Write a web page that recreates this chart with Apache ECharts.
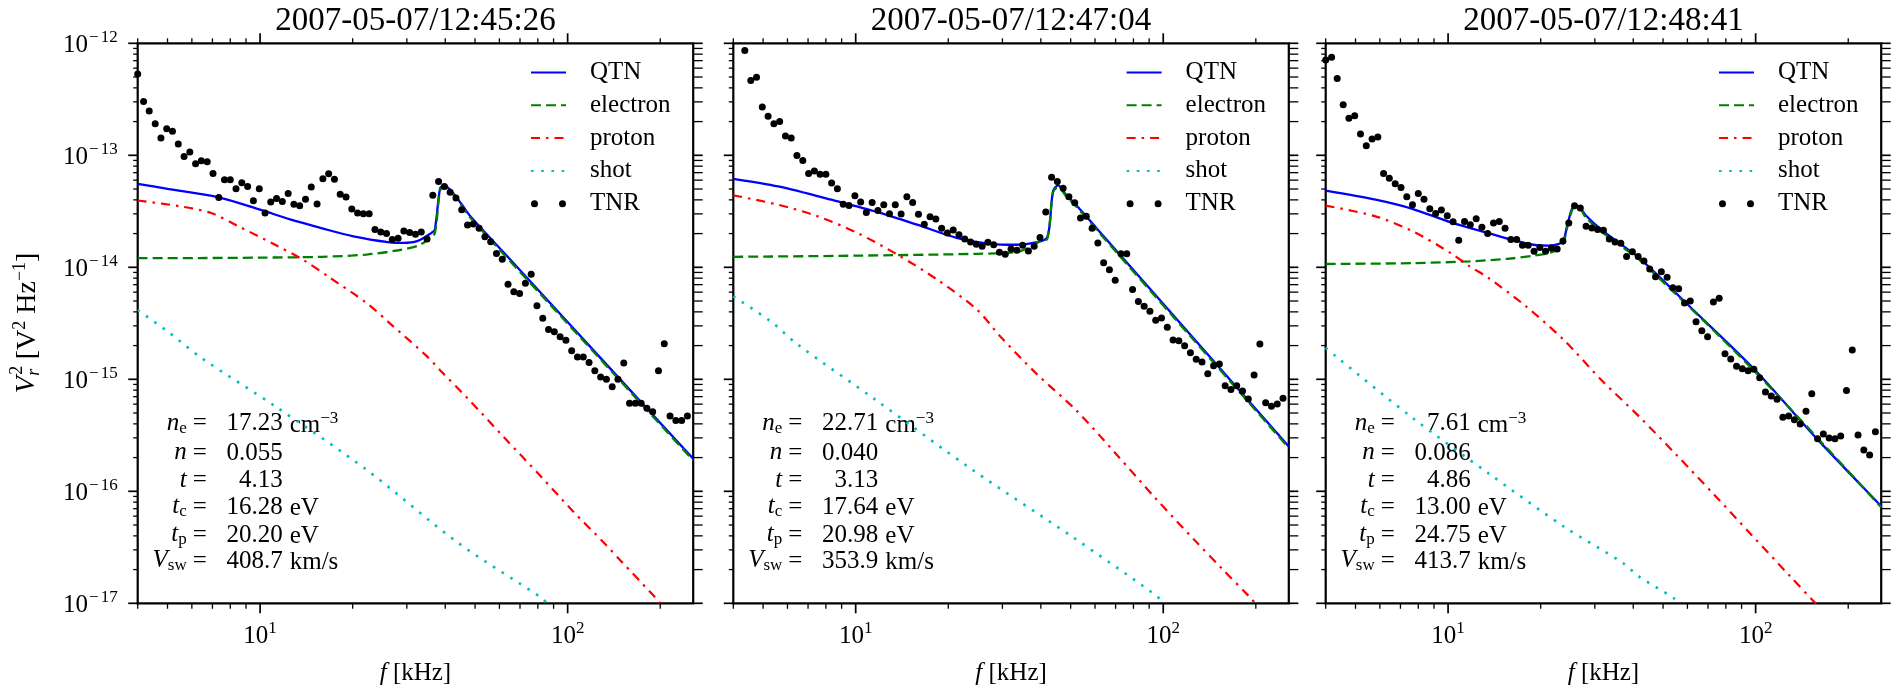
<!DOCTYPE html>
<html>
<head>
<meta charset="utf-8">
<script src="https://cdn.jsdelivr.net/npm/echarts@6/dist/echarts.min.js"></script>
<style>
  html, body { margin: 0; padding: 0; background: #fff; }
  #chart { width: 1891px; height: 688px; }
</style>
</head>
<body>
<div id="chart"></div>
<script>
// ---- TNR receiver channel frequencies (kHz) ----
const freqKHz = [
  4.00, 4.18, 4.36, 4.56, 4.76, 4.97, 5.19, 5.42, 5.66, 5.91, 6.17, 6.44, 6.73, 7.03, 7.34, 7.66,
  8.00, 8.35, 8.72, 9.11, 9.51, 9.94, 10.38, 10.83, 11.31, 11.81, 12.34, 12.88, 13.45, 14.05, 14.67, 15.32,
  16.00, 16.71, 17.45, 18.22, 19.03, 19.87, 20.75, 21.67, 22.63, 23.63, 24.68, 25.77, 26.91, 28.10, 29.34, 30.64,
  32.00, 33.42, 34.90, 36.44, 38.05, 39.74, 41.50, 43.34, 45.25, 47.26, 49.35, 51.54, 53.82, 56.20, 58.69, 61.29,
  64.00, 66.83, 69.79, 72.88, 76.11, 79.48, 83.00, 86.67, 90.51, 94.52, 98.70, 103.07, 107.63, 112.40, 117.38, 122.57,
  128.00, 133.67, 139.59, 145.77, 152.22, 158.96, 166.00, 173.35, 181.02, 189.03, 197.40, 206.14, 215.27, 224.80, 234.75, 245.15
];

// ---- measured TNR spectra (V^2/Hz), one value per channel ----
const tnr1 = [
  5.33e-13, 3.02e-13, 2.49e-13, 1.91e-13, 1.43e-13, 1.73e-13, 1.64e-13, 1.26e-13, 9.77e-14, 1.07e-13, 8.39e-14, 8.93e-14, 8.75e-14, 6.89e-14, 4.21e-14, 6.05e-14,
  6.05e-14, 5.02e-14, 5.69e-14, 5.27e-14, 3.93e-14, 5.02e-14, 3.05e-14, 3.82e-14, 4.12e-14, 3.87e-14, 4.57e-14, 3.65e-14, 3.55e-14, 4.06e-14, 5.20e-14, 3.67e-14,
  6.17e-14, 6.84e-14, 6.12e-14, 4.48e-14, 4.24e-14, 3.31e-14, 3.05e-14, 3.01e-14, 3.01e-14, 2.17e-14, 2.07e-14, 2.00e-14, 1.77e-14, 1.82e-14, 2.11e-14, 2.04e-14,
  1.97e-14, 2.07e-14, 1.79e-14, 4.39e-14, 5.85e-14, 5.27e-14, 4.67e-14, 4.15e-14, 3.27e-14, 2.38e-14, 2.44e-14, 2.23e-14, 1.87e-14, 1.69e-14, 1.33e-14, 1.18e-14,
  7.05e-15, 6.05e-15, 5.85e-15, 7.19e-15, 8.65e-15, 4.54e-15, 3.51e-15, 2.79e-15, 2.66e-15, 2.40e-15, 2.23e-15, 1.80e-15, 1.58e-15, 1.58e-15, 1.41e-15, 1.19e-15,
  1.05e-15, 1.00e-15, 8.59e-16, 1.00e-15, 1.40e-15, 6.11e-16, 6.11e-16, 6.11e-16, 5.51e-16, 5.14e-16, 1.19e-15, 2.08e-15, 4.71e-16, 4.28e-16, 4.28e-16, 4.71e-16
];
const tnr2 = [
  null, null, 8.61e-13, 4.65e-13, 4.98e-13, 2.70e-13, 2.23e-13, 1.91e-13, 2.00e-13, 1.49e-13, 1.43e-13, 9.98e-14, 9.00e-14, 6.89e-14, 7.23e-14, 6.79e-14,
  6.79e-14, 5.65e-14, 5.02e-14, 3.65e-14, 3.57e-14, 4.36e-14, 3.82e-14, 3.09e-14, 3.79e-14, 3.22e-14, 3.62e-14, 3.01e-14, 3.62e-14, 2.99e-14, 4.27e-14, 3.79e-14,
  2.97e-14, 2.42e-14, 2.83e-14, 2.70e-14, 2.23e-14, 2.02e-14, 2.15e-14, 1.95e-14, 1.79e-14, 1.68e-14, 1.61e-14, 1.54e-14, 1.67e-14, 1.59e-14, 1.36e-14, 1.31e-14,
  1.46e-14, 1.42e-14, 1.57e-14, 1.40e-14, 1.54e-14, 1.85e-14, 3.11e-14, 6.38e-14, 5.85e-14, 5.09e-14, 4.27e-14, 3.77e-14, 2.75e-14, 2.85e-14, 2.23e-14, 1.65e-14,
  1.10e-14, 9.53e-15, 7.66e-15, 1.32e-14, 1.32e-14, 6.32e-15, 4.94e-15, 4.49e-15, 4.05e-15, 3.37e-15, 3.53e-15, 2.92e-15, 2.24e-15, 2.21e-15, 1.99e-15, 1.73e-15,
  1.51e-15, 1.43e-15, 1.12e-15, 1.32e-15, 1.37e-15, 8.77e-16, 8.09e-16, 8.77e-16, 7.87e-16, 6.67e-16, 1.09e-15, 2.07e-15, 6.19e-16, 5.74e-16, 6.03e-16, 6.76e-16
];
const tnr3 = [
  7.10e-13, 7.50e-13, 4.84e-13, 2.82e-13, 2.14e-13, 2.26e-13, 1.55e-13, 1.22e-13, 1.40e-13, 1.46e-13, 6.89e-14, 6.25e-14, 5.57e-14, 5.16e-14, 4.27e-14, 3.62e-14,
  4.57e-14, 4.06e-14, 3.33e-14, 3.03e-14, 3.24e-14, 2.89e-14, 2.55e-14, 1.74e-14, 2.57e-14, 2.40e-14, 2.72e-14, 2.28e-14, 2.00e-14, 2.48e-14, 2.57e-14, 2.23e-14,
  1.77e-14, 1.77e-14, 1.57e-14, 1.57e-14, 1.39e-14, 1.50e-14, 1.39e-14, 1.49e-14, 1.46e-14, 1.72e-14, 2.48e-14, 3.55e-14, 3.38e-14, 2.33e-14, 2.24e-14, 2.17e-14,
  2.14e-14, 1.79e-14, 1.68e-14, 1.64e-14, 1.25e-14, 1.38e-14, 1.25e-14, 1.14e-14, 9.66e-15, 8.24e-15, 9.14e-15, 8.14e-15, 6.58e-15, 6.44e-15, 4.80e-15, 5.00e-15,
  3.27e-15, 2.72e-15, 2.40e-15, 4.90e-15, 5.28e-15, 1.69e-15, 1.52e-15, 1.31e-15, 1.24e-15, 1.19e-15, 1.23e-15, 1.03e-15, 7.70e-16, 7.10e-16, 6.62e-16, 4.58e-16,
  4.70e-16, 4.36e-16, 3.99e-16, 5.18e-16, 7.43e-16, 2.95e-16, 3.25e-16, 2.99e-16, 2.95e-16, 3.12e-16, 7.93e-16, 1.83e-15, 3.18e-16, 2.34e-16, 2.11e-16, 3.40e-16
];

// ---- fitted model spectra: [f (kHz), V^2/Hz] ----
const qtn1 = [[4.0,5.57e-14],[5.01,5.02e-14],[7.29,4.24e-14],[10.0,3.27e-14],[12.6,2.66e-14],[15.8,2.24e-14],[20.1,1.89e-14],[26.4,1.67e-14],[29.2,1.65e-14],[32.4,1.71e-14],[36.0,2.02e-14],[37.0,2.17e-14],[38.5,5.09e-14],[39.8,5.35e-14],[42.2,4.68e-14],[45.0,3.72e-14],[48.1,2.89e-14],[62.2,1.34e-14],[87.7,4.80e-15],[126.3,1.61e-15],[256,1.95e-16]];
const electron1 = [[4.0,1.21e-14],[6.3,1.21e-14],[10.0,1.22e-14],[15.8,1.24e-14],[22.2,1.30e-14],[28.2,1.42e-14],[32.4,1.55e-14],[35.3,1.77e-14],[37.0,2.02e-14],[38.5,4.90e-14],[39.8,5.18e-14],[42.2,4.53e-14],[45.0,3.60e-14],[48.1,2.80e-14],[87.7,4.65e-15],[256,1.89e-16]];
const proton1 = [[4.0,3.95e-14],[5.5,3.50e-14],[6.93,3.05e-14],[8.51,2.32e-14],[11.19,1.59e-14],[13.77,1.17e-14],[16.90,8.04e-15],[22.23,4.79e-15],[26.42,3.16e-15],[34.75,1.62e-15],[38.55,1.20e-15],[47.3,6.76e-16],[62.2,3.02e-16],[82.0,1.35e-16],[104.2,6.61e-17],[132.4,3.39e-17],[147.9,2.44e-17],[193.1,1.12e-17],[200,1.0e-17]];
const shot1 = [[4.0,4.16e-15],[5.08,2.59e-15],[6.47,1.54e-15],[11.19,5.75e-16],[22.23,1.55e-16],[44.2,3.44e-17],[83.4,1.09e-17],[85.1,1.0e-17]];

const qtn2 = [[4.0,6.17e-14],[5.60,5.27e-14],[8.75,3.87e-14],[11.78,3.11e-14],[15.85,2.40e-14],[21.3,1.83e-14],[27.0,1.63e-14],[33.3,1.59e-14],[38.6,1.67e-14],[42.0,1.86e-14],[43.8,4.76e-14],[45.5,5.38e-14],[48.3,4.45e-14],[52.0,3.62e-14],[60.4,2.27e-14],[81.3,8.99e-15],[109.4,3.56e-15],[138.7,1.70e-15],[253.5,2.59e-16],[256,2.52e-16]];
const electron2 = [[4.0,1.24e-14],[10.0,1.27e-14],[24.8,1.32e-14],[33.3,1.37e-14],[36.4,1.49e-14],[39.8,1.71e-14],[42.0,1.80e-14],[43.8,4.62e-14],[45.5,5.22e-14],[48.3,4.32e-14],[52.0,3.51e-14],[60.4,2.20e-14],[109.4,3.45e-15],[256,2.44e-16]];
const proton2 = [[4.0,4.39e-14],[5.60,3.62e-14],[7.53,2.85e-14],[10.14,2.02e-14],[13.65,1.30e-14],[18.41,7.76e-15],[24.77,4.20e-15],[29.58,2.40e-15],[38.6,1.13e-15],[52.0,5.32e-16],[70.0,2.18e-16],[94.2,8.71e-17],[126.8,3.63e-17],[156.3,2.00e-17],[189.2,1.17e-17],[199,1.0e-17]];
const shot2 = [[4.0,5.51e-15],[5.28,3.30e-15],[6.50,2.03e-15],[11.43,6.76e-16],[24.0,1.55e-16],[50.5,3.94e-17],[95.7,1.15e-17],[99,1.0e-17]];

const qtn3 = [[4.0,4.83e-14],[5.81,4.01e-14],[7.69,3.31e-14],[10.2,2.52e-14],[13.52,2.02e-14],[16.0,1.77e-14],[18.97,1.59e-14],[21.2,1.56e-14],[23.1,1.63e-14],[23.8,1.77e-14],[24.5,2.48e-14],[25.7,3.55e-14],[26.6,3.50e-14],[28.1,2.89e-14],[31.5,2.17e-14],[36.3,1.62e-14],[42.0,1.20e-14],[63.1,4.09e-15],[99.5,1.21e-15],[157.8,2.97e-16],[250.6,7.82e-17],[256,7.41e-17]];
const electron3 = [[4.0,1.07e-14],[7.69,1.09e-14],[11.75,1.13e-14],[15.56,1.19e-14],[18.97,1.27e-14],[21.2,1.34e-14],[22.75,1.44e-14],[23.8,1.70e-14],[24.5,2.38e-14],[25.7,3.40e-14],[26.6,3.40e-14],[28.1,2.76e-14],[31.5,2.08e-14],[36.3,1.56e-14],[42.0,1.16e-14],[99.5,1.17e-15],[256,7.2e-17]];
const proton3 = [[4.0,3.55e-14],[5.81,2.85e-14],[7.69,2.09e-14],[10.2,1.34e-14],[11.75,1.02e-14],[13.52,8.04e-15],[17.9,4.49e-15],[23.8,2.24e-15],[31.5,9.86e-16],[41.8,4.65e-16],[55.3,2.11e-16],[73.3,9.33e-17],[97.3,4.04e-17],[128.8,1.77e-17],[154.9,1.03e-17],[157,1.0e-17]];
const shot3 = [[4.0,1.91e-15],[4.26,1.65e-15],[7.69,4.49e-16],[13.52,1.45e-16],[23.8,4.84e-17],[37.1,2.28e-17],[41.8,1.73e-17],[54.2,1.11e-17],[55.5,1.0e-17]];

// ---- panel titles and fitted plasma parameters ----
const titles = ['2007-05-07/12:45:26', '2007-05-07/12:47:04', '2007-05-07/12:48:41'];
const densityNe = [17.23, 22.71, 7.61];     // cm^-3
const ratioN = [0.055, 0.040, 0.086];
const ratioT = [4.13, 3.13, 4.86];
const coreTc = [16.28, 17.64, 13.00];        // eV
const protonTp = [20.20, 20.98, 24.75];      // eV
const windVsw = [408.7, 353.9, 413.7];       // km/s

// ---- axis ticks ----
const xDecades = [1, 2];
const xMajorTicks = [10, 100];
const xMinorTicks = [4, 5, 6, 7, 8, 9, 20, 30, 40, 50, 60, 70, 80, 90, 200];
const yDecades = [-17, -16, -15, -14, -13, -12];
const yMinorMantissas = [2, 3, 4, 5, 6, 7, 8, 9];
const legendNames = ['QTN', 'electron', 'proton', 'shot', 'TNR'];

const panels = [
  { tnr: tnr1, qtn: qtn1, electron: electron1, proton: proton1, shot: shot1 },
  { tnr: tnr2, qtn: qtn2, electron: electron2, proton: proton2, shot: shot2 },
  { tnr: tnr3, qtn: qtn3, electron: electron3, proton: proton3, shot: shot3 }
];

// ---- layout ----
const FONT = 'Liberation Serif';
const GRID_LEFT = [137.7, 733.3, 1325.7];
const GRID_TOP = 43.3, GRID_W = 555.5, GRID_H = 560;
const X_MIN = 4, X_MAX = 256, Y_MIN = 1e-17, Y_MAX = 1e-12;
const SMOOTH = 0.3;

const COLORS = { qtn: '#0000ff', electron: '#008000', proton: '#ff0000', shot: '#00bfbf', tnr: '#000000' };

const tickRich = {
  b: { fontFamily: FONT, fontSize: 25, lineHeight: 29, verticalAlign: 'bottom', color: '#000' },
  s: { fontFamily: FONT, fontSize: 17, lineHeight: 17, verticalAlign: 'top', color: '#000' },
  m: { fontFamily: FONT, fontSize: 17, lineHeight: 17, verticalAlign: 'top', color: '#000', padding: [0, 2, 0, 1] }
};

function decadeLabel(v, exps) {
  const lg = Math.log10(v);
  const e = Math.round(lg);
  if (Math.abs(lg - e) > 1e-6 || exps.indexOf(e) < 0) return '';
  return e < 0 ? '{b|10}{m|\u2212}{s|' + (-e) + '}' : '{b|10}{s|' + e + '}';
}

// tick marks on all four sides of each frame
const tickData = [];
xMajorTicks.forEach(v => tickData.push([v, Y_MIN, 0, 1]));
xMinorTicks.forEach(v => tickData.push([v, Y_MIN, 0, 0]));
yDecades.forEach(e => tickData.push([X_MIN, Math.pow(10, e), 1, 1]));
yDecades.slice(0, -1).forEach(e =>
  yMinorMantissas.forEach(m => tickData.push([X_MIN, m * Math.pow(10, e), 1, 0])));

function renderTicks(params, api) {
  const kind = api.value(2);
  const major = api.value(3) === 1;
  const style = { stroke: '#000', lineWidth: major ? 1.7 : 1.3 };
  if (kind === 0) {
    const b = api.coord([api.value(0), Y_MIN]);
    const t = api.coord([api.value(0), Y_MAX]);
    const lb = major ? 10 : 5.5, lt = major ? 10 : 5;
    return { type: 'group', children: [
      { type: 'line', shape: { x1: b[0], y1: b[1], x2: b[0], y2: b[1] + lb }, style },
      { type: 'line', shape: { x1: t[0], y1: t[1], x2: t[0], y2: t[1] - lt }, style }
    ] };
  }
  const l = api.coord([X_MIN, api.value(1)]);
  const r = api.coord([X_MAX, api.value(1)]);
  const ll = major ? 9.5 : 4.5, lr = 9.5;
  return { type: 'group', children: [
    { type: 'line', shape: { x1: l[0], y1: l[1], x2: l[0] - ll, y2: l[1] }, style },
    { type: 'line', shape: { x1: r[0], y1: r[1], x2: r[0] + lr, y2: r[1] }, style }
  ] };
}

const grids = [], xAxes = [], yAxes = [], series = [], legends = [], graphics = [];

const TNR_ICON = 'path://M0,3.5a3.5,3.5 0 1,0 7,0a3.5,3.5 0 1,0 -7,0zM28,3.5a3.5,3.5 0 1,0 7,0a3.5,3.5 0 1,0 -7,0z';

const annRich = {
  r:   { fontFamily: FONT, fontSize: 25, lineHeight: 28, verticalAlign: 'bottom', fill: '#000' },
  sup: { fontFamily: FONT, fontSize: 17, lineHeight: 17, verticalAlign: 'top', fill: '#000' },
  it:  { fontFamily: FONT, fontStyle: 'italic', fontSize: 25, lineHeight: 26, verticalAlign: 'top', fill: '#000' },
  sub: { fontFamily: FONT, fontSize: 17, lineHeight: 17, verticalAlign: 'bottom', padding: [11, 0, 0, 0], fill: '#000' }
};
const rowOffsets = [380.4, 410, 437.4, 463.7, 491.7, 518];

panels.forEach((pd, p) => {
  const gl = GRID_LEFT[p];
  grids.push({
    left: gl, top: GRID_TOP, width: GRID_W, height: GRID_H,
    show: true, borderColor: '#000', borderWidth: 2.2, backgroundColor: 'transparent',
    containLabel: false, outerBoundsMode: 'none'
  });
  xAxes.push({
    type: 'log', logBase: 10, gridIndex: p, min: X_MIN, max: X_MAX, splitNumber: 5,
    axisLine: { show: false }, axisTick: { show: false }, minorTick: { show: false },
    splitLine: { show: false }, minorSplitLine: { show: false },
    axisLabel: { show: true, margin: 17, color: '#000', formatter: v => decadeLabel(v, xDecades), rich: tickRich },
    name: '{it|f}{r| [kHz]}', nameLocation: 'middle', nameGap: 57,
    nameTextStyle: {
      color: '#000', fontFamily: FONT, fontSize: 25,
      rich: {
        it: { fontFamily: FONT, fontStyle: 'italic', fontSize: 25, lineHeight: 27, color: '#000' },
        r: { fontFamily: FONT, fontSize: 25, lineHeight: 27, color: '#000' }
      }
    }
  });
  yAxes.push({
    type: 'log', logBase: 10, gridIndex: p, min: Y_MIN, max: Y_MAX, splitNumber: 5,
    axisLine: { show: false }, axisTick: { show: false }, minorTick: { show: false },
    splitLine: { show: false }, minorSplitLine: { show: false },
    axisLabel: { show: p === 0, margin: 20, color: '#000', formatter: v => decadeLabel(v, yDecades), rich: tickRich }
  });

  const common = { xAxisIndex: p, yAxisIndex: p, symbol: 'none', silent: true, animation: false, clip: true, smooth: SMOOTH };
  series.push(Object.assign({ name: 'QTN', type: 'line', data: pd.qtn, z: 3,
    lineStyle: { color: COLORS.qtn, width: 2.3 }, itemStyle: { color: COLORS.qtn } }, common));
  series.push(Object.assign({ name: 'electron', type: 'line', data: pd.electron, z: 4,
    lineStyle: { color: COLORS.electron, width: 2.3, type: [10, 5] }, itemStyle: { color: COLORS.electron } }, common));
  series.push(Object.assign({ name: 'proton', type: 'line', data: pd.proton, z: 4,
    lineStyle: { color: COLORS.proton, width: 2.2, type: [9, 6, 2.5, 6] }, itemStyle: { color: COLORS.proton } }, common));
  series.push(Object.assign({ name: 'shot', type: 'line', data: pd.shot, z: 4,
    lineStyle: { color: COLORS.shot, width: 2.6, type: [2.6, 7.6] }, itemStyle: { color: COLORS.shot } }, common));
  series.push({
    name: 'TNR', type: 'scatter', xAxisIndex: p, yAxisIndex: p, z: 5, silent: true, animation: false,
    symbol: 'circle', symbolSize: 7, itemStyle: { color: COLORS.tnr, opacity: 1 },
    data: freqKHz.map((f, i) => [f, pd.tnr[i]]).filter(d => d[1] != null)
  });
  series.push({
    type: 'custom', xAxisIndex: p, yAxisIndex: p, data: tickData, renderItem: renderTicks,
    encode: { x: 0, y: 1 }, clip: false, silent: true, animation: false, z: 10
  });

  legends.push({
    orient: 'vertical', left: gl + 392.3, top: 60, padding: 0,
    itemGap: 7.8, itemWidth: 35, itemHeight: 7, selectedMode: false,
    data: legendNames.map(n => n === 'TNR' ? { name: n, icon: TNR_ICON } : { name: n, itemStyle: { opacity: 0 } }),
    formatter: '{t|{name}}',
    textStyle: {
      color: '#000', fontFamily: FONT, fontSize: 25,
      rich: { t: { color: '#000', fontFamily: FONT, fontSize: 25, lineHeight: 25, padding: [0, 0, 0, 19] } }
    }
  });

  // panel title
  graphics.push({
    type: 'text', x: gl + GRID_W / 2, y: 21.7, silent: true,
    style: { text: titles[p], fontFamily: FONT, fontSize: 33, fill: '#000', align: 'center', verticalAlign: 'middle' }
  });

  // fitted parameter block
  const rows = [
    { label: '{it|n}{sub|e}', value: densityNe[p].toFixed(2), unit: '{r|cm}{sup|\u22123}' },
    { label: '{it|n}', value: ratioN[p].toFixed(3), unit: '' },
    { label: '{it|t}', value: ratioT[p].toFixed(2), unit: '' },
    { label: '{it|t}{sub|c}', value: coreTc[p].toFixed(2), unit: '{r|eV}' },
    { label: '{it|t}{sub|p}', value: protonTp[p].toFixed(2), unit: '{r|eV}' },
    { label: '{it|V}{sub|sw}', value: windVsw[p].toFixed(1), unit: '{r|km/s}' }
  ];
  rows.forEach((row, k) => {
    const y = GRID_TOP + rowOffsets[k];
    graphics.push({ type: 'text', x: gl + 49, y, silent: true,
      style: { text: row.label, rich: annRich, fill: '#000', fontFamily: FONT, fontSize: 25, align: 'right', verticalAlign: 'middle' } });
    graphics.push({ type: 'text', x: gl + 55, y, silent: true,
      style: { text: '=', fill: '#000', fontFamily: FONT, fontSize: 25, align: 'left', verticalAlign: 'middle' } });
    graphics.push({ type: 'text', x: gl + 145, y, silent: true,
      style: { text: row.value, fill: '#000', fontFamily: FONT, fontSize: 25, align: 'right', verticalAlign: 'middle' } });
    if (row.unit) {
      graphics.push({ type: 'text', x: gl + 152, y, silent: true,
        style: { text: row.unit, rich: annRich, fill: '#000', fontFamily: FONT, fontSize: 25, align: 'left', verticalAlign: 'middle' } });
    }
  });
});

// vertical axis title: V_r^2 [V^2 Hz^-1]
const yTitleStyle = { fill: '#000', fontFamily: FONT, align: 'left', verticalAlign: 'middle' };
graphics.push({
  type: 'group', x: 26.5, y: GRID_TOP + GRID_H / 2, rotation: Math.PI / 2, silent: true,
  children: [
    { type: 'text', x: -70, y: 0, style: Object.assign({ text: 'V', fontSize: 28, fontStyle: 'italic' }, yTitleStyle) },
    { type: 'text', x: -51.5, y: -9, style: Object.assign({ text: '2', fontSize: 18 }, yTitleStyle) },
    { type: 'text', x: -52.5, y: 8, style: Object.assign({ text: 'r', fontSize: 18, fontStyle: 'italic' }, yTitleStyle) },
    { type: 'text', x: -36, y: 0, style: Object.assign({
        text: '{r|[V}{sup|2}{r| Hz}{sup|\u22121}{r|]}', fontSize: 28,
        rich: {
          r: { fontFamily: FONT, fontSize: 28, lineHeight: 31, verticalAlign: 'bottom', fill: '#000' },
          sup: { fontFamily: FONT, fontSize: 18, lineHeight: 18, verticalAlign: 'top', fill: '#000' }
        } }, yTitleStyle) }
  ]
});

const chart = echarts.init(document.getElementById('chart'), null, { renderer: 'canvas' });
chart.setOption({
  animation: false,
  backgroundColor: '#ffffff',
  grid: grids,
  xAxis: xAxes,
  yAxis: yAxes,
  legend: legends,
  series: series,
  graphic: graphics
});
</script>
</body>
</html>
